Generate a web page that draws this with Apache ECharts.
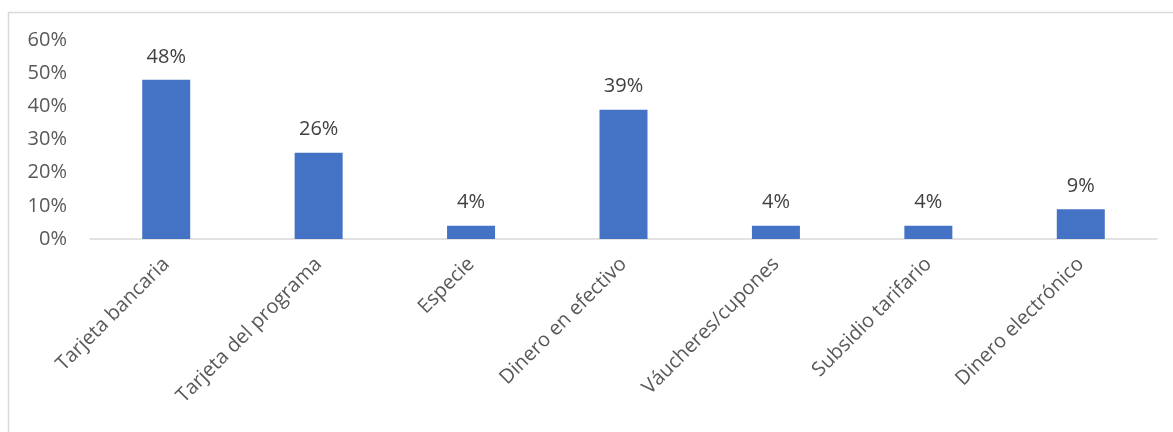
<!DOCTYPE html>
<html>
<head>
<meta charset="utf-8">
<script src="https://cdn.jsdelivr.net/npm/echarts@6/dist/echarts.min.js"></script>
<style>
  html, body { margin: 0; padding: 0; background: #fff; }
  #chart { width: 1173px; height: 432px; }
</style>
</head>
<body>
<div id="chart"></div>
<script>
// Payment methods and their share of respondents (%)
const categories = [
  'Tarjeta bancaria',
  'Tarjeta del programa',
  'Especie',
  'Dinero en efectivo',
  'Váucheres/cupones',
  'Subsidio tarifario',
  'Dinero electrónico'
];
const shares = [48, 26, 4, 39, 4, 4, 9];
const yTicks = { min: 0, max: 60, interval: 10 };

const FONT = '"Open Sans", "Noto Sans", sans-serif';

const chart = echarts.init(document.getElementById('chart'), null, { renderer: 'canvas' });
chart.setOption({
  animation: false,
  backgroundColor: '#ffffff',
  graphic: [{
    type: 'rect',
    shape: { x: 8.5, y: 12.5, width: 1200, height: 500 },
    style: { fill: 'none', stroke: '#d9d9d9', lineWidth: 1.5 },
    silent: true
  }],
  grid: { left: 90, right: 16, top: 40, bottom: 193, containLabel: false },
  xAxis: {
    type: 'category',
    data: categories,
    axisTick: { show: false },
    axisLine: { show: true, lineStyle: { color: '#d9d9d9', width: 1.5 } },
    axisLabel: {
      interval: 0,
      rotate: 45,
      margin: 22,
      color: '#595959',
      fontFamily: FONT,
      fontSize: 20
    }
  },
  yAxis: {
    type: 'value',
    min: yTicks.min,
    max: yTicks.max,
    interval: yTicks.interval,
    splitLine: { show: false },
    axisLine: { show: false },
    axisTick: { show: false },
    axisLabel: {
      margin: 23,
      color: '#595959',
      fontFamily: FONT,
      fontSize: 20,
      formatter: v => v + '%'
    }
  },
  series: [{
    type: 'bar',
    data: shares,
    barWidth: 48,
    itemStyle: { color: '#4472c4' },
    label: {
      show: true,
      position: 'top',
      distance: 13,
      color: '#404040',
      fontFamily: FONT,
      fontSize: 20,
      formatter: p => p.value + '%'
    }
  }]
});
</script>
</body>
</html>
